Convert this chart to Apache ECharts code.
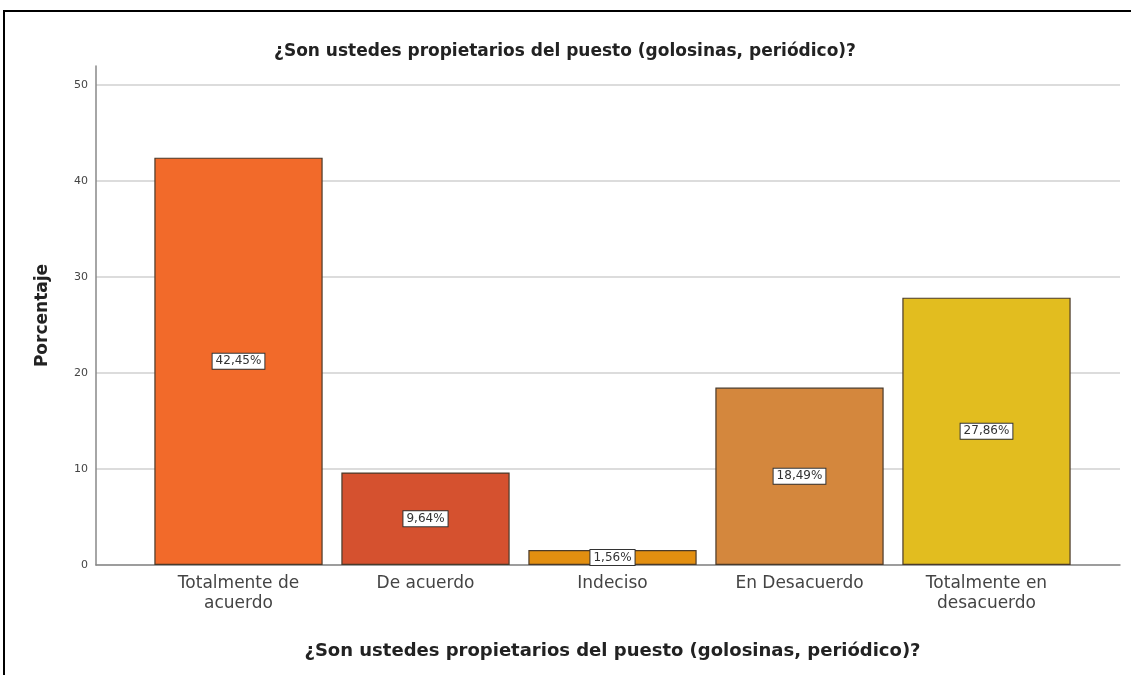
<!DOCTYPE html>
<html>
<head>
<meta charset="utf-8">
<script src="https://cdn.jsdelivr.net/npm/echarts@6/dist/echarts.min.js"></script>
<style>
  html, body { margin: 0; padding: 0; background: #fff; }
  #chart { width: 1131px; height: 675px; }
</style>
</head>
<body>
<div id="chart"></div>
<script>
const categories = ['Totalmente de\nacuerdo', 'De acuerdo', 'Indeciso', 'En Desacuerdo', 'Totalmente en\ndesacuerdo']
const percentages = [42.45, 9.64, 1.56, 18.49, 27.86]
const barColors = ['#F26A2A', '#D5512F', '#E38F10', '#D4873D', '#E2BD1F']
const yTicks = [0, 10, 20, 30, 40, 50]

const titleText = '¿Son ustedes propietarios del puesto (golosinas, periódico)?'
const fontFamily = 'DejaVu Sans, sans-serif'

const chart = echarts.init(document.getElementById('chart'))

const option = {
  animation: false,
  backgroundColor: '#fff',
  title: {
    text: titleText,
    left: 560,
    top: 38,
    textAlign: 'center',
    textStyle: { fontSize: 17, fontWeight: 'bold', color: '#222', fontFamily }
  },
  graphic: [
    {
      type: 'polyline',
      shape: { points: [[4, 675], [4, 11], [1131, 11]] },
      style: { stroke: '#000', lineWidth: 2, fill: null }
    }
  ],
  grid: [
    { left: 96, right: 11, top: 66, bottom: 110 },
    { left: 145, width: 935, top: 66, bottom: 110 }
  ],
  xAxis: [
    {
      type: 'value',
      gridIndex: 0,
      min: 0,
      max: 1,
      axisLine: { show: true, onZero: false, lineStyle: { color: '#888', width: 1.5 } },
      axisTick: { show: false },
      axisLabel: { show: false },
      splitLine: { show: false }
    },
    {
      type: 'category',
      gridIndex: 1,
      data: categories,
      axisLine: { show: false },
      axisTick: { show: false },
      axisLabel: {
        interval: 0,
        margin: 9,
        fontSize: 17,
        lineHeight: 20,
        color: '#444',
        fontFamily
      },
      name: titleText,
      nameLocation: 'middle',
      nameGap: 77,
      nameTextStyle: { fontSize: 18, fontWeight: 'bold', color: '#222', fontFamily }
    }
  ],
  yAxis: [
    {
      type: 'value',
      gridIndex: 0,
      min: 0,
      max: 52,
      interval: 10,
      axisLine: { show: true, lineStyle: { color: '#888', width: 1.5 } },
      axisTick: { show: false },
      axisLabel: {
        showMaxLabel: false,
        fontSize: 11,
        color: '#444',
        margin: 8,
        fontFamily,
        formatter: v => (yTicks.includes(v) ? String(v) : '')
      },
      splitLine: { show: true, showMaxLine: false, lineStyle: { color: '#dcdcdc', width: 2 } },
      name: 'Porcentaje',
      nameLocation: 'middle',
      nameGap: 45,
      nameRotate: 90,
      nameTextStyle: { fontSize: 17, fontWeight: 'bold', color: '#222', fontFamily }
    },
    {
      type: 'value',
      gridIndex: 1,
      min: 0,
      max: 52,
      show: false,
      splitLine: { show: false }
    }
  ],
  series: [
    {
      type: 'bar',
      xAxisIndex: 1,
      yAxisIndex: 1,
      barCategoryGap: '10%',
      data: percentages.map((v, i) => ({
        value: v,
        itemStyle: { color: barColors[i] }
      })),
      itemStyle: { borderColor: '#4a3a2a', borderWidth: 1.2 },
      label: {
        show: true,
        position: 'inside',
        formatter: p => p.value.toFixed(2).replace('.', ',') + '%',
        fontSize: 12,
        color: '#333',
        fontFamily,
        backgroundColor: '#fff',
        borderColor: '#333',
        borderWidth: 1,
        padding: [2, 3, 1, 3]
      }
    }
  ]
}

chart.setOption(option)
</script>
</body>
</html>
